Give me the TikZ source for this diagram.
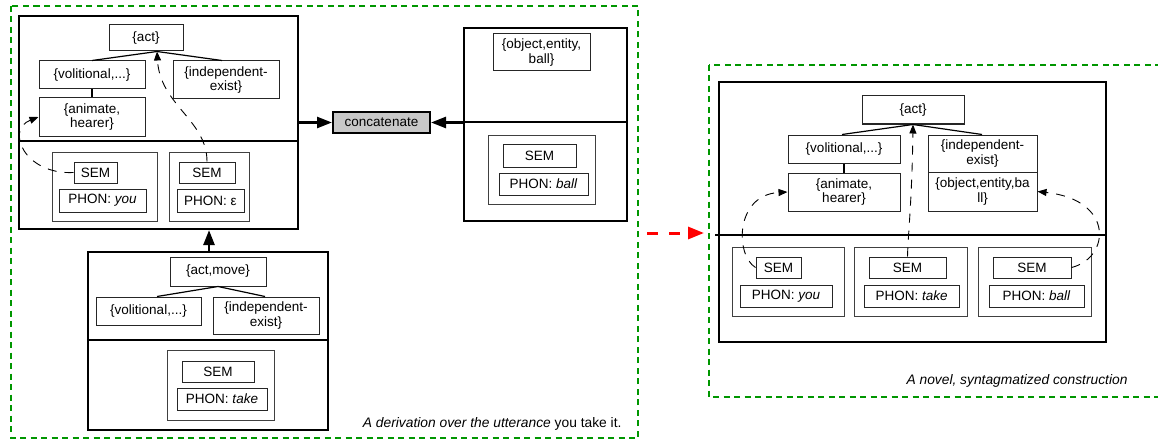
\documentclass[tikz,border=0pt]{standalone}
\usepackage{fontspec}
\setmainfont{Liberation Sans}
\usetikzlibrary{arrows.meta,calc}
\definecolor{dgreen}{RGB}{0,150,0}
\definecolor{cgray}{RGB}{200,200,200}
\newcommand{\boxfont}{\fontsize{13.5}{14.5}\selectfont}
\newcommand{\capfont}{\fontsize{13.8}{15}\selectfont}
\begin{document}
\begin{tikzpicture}[x=1pt,y=-1pt,
  every node/.style={font=\boxfont},
  sz/.style 2 args={minimum width=#1pt, minimum height=#2pt},
  box/.style={draw=black!85, line width=1pt, inner sep=0pt, align=center},
  cont/.style={draw=black!75, line width=1pt, inner sep=0pt},
  bigbox/.style={draw=black, line width=2.2pt, inner sep=0pt},
  divline/.style={draw=black, line width=2pt},
  tree/.style={draw=black, line width=1.2pt},
  bigarrow/.style={draw=black, line width=2.6pt, -{Triangle[length=15pt,width=11pt]}},
  dasharrow/.style={draw=black, line width=0.9pt, dash pattern=on 9pt off 8pt, -{Triangle[length=9pt,width=7pt]}},
  greenbox/.style={draw=dgreen, line width=2.4pt, dash pattern=on 6pt off 4.5pt},
  redarrow/.style={draw=red, line width=3pt, dash pattern=on 11pt off 11pt, -{Triangle[length=16pt,width=12pt]}},
  ]
\useasboundingbox (0,0) rectangle (1158,441);
\clip (0,0) rectangle (1158,441);

% green frames
\draw[greenbox] (11,6) rectangle (638,438);
\draw[greenbox] (709,65) rectangle (1170,397);

% ---------- Box A ----------
\node[bigbox, sz={279}{213}] (A) at (158.5,122.5) {};
\draw[divline] (A.west |- 0,141) -- (A.east |- 0,141);
\node[box, sz={74}{26}] (actA) at (146,38) {\{act\}};
\node[box, sz={106}{28}] (volA) at (92,75) {\{volitional,...\}};
\node[box, sz={106}{38}] (indA) at (226,80) {\{independent-\\exist\}};
\node[box, sz={106}{38}] (aniA) at (92,117) {\{animate,\\hearer\}};
\draw[tree] (volA.north) -- (actA.south -| 157,0) -- (indA.north -| 222,0);
\draw[tree] (volA.south) -- (aniA.north);
\node[cont, sz={105}{69}] (youA) at (104.5,186.5) {};
\node[box, sz={43}{21}] (semYouA) at (95.5,172.5) {SEM};
\node[box, sz={87}{23}] (phonYouA) at (102.5,200.5) {PHON: \textit{you}};
\node[cont, sz={80}{69}] (epsA) at (209,186.5) {};
\node[box, sz={56}{21}] (semEpsA) at (207,172.5) {SEM};
\node[box, sz={67}{23}] (phonEpsA) at (210.5,200.5) {PHON: ε};
\draw[dasharrow] (semYouA.west) .. controls (25,175) and (5,130) .. (aniA.west);
\draw[dasharrow] (semEpsA.north) .. controls (207,120) and (160,105) .. (actA.south -| 157,0);

% ---------- concatenate ----------
\node[draw=black, line width=2pt, fill=cgray, inner sep=0pt, sz={97}{21}] (concat) at (381.5,122.5) {concatenate};

% ---------- Box B ----------
\node[bigbox, sz={163}{193}] (B) at (545.5,124.5) {};
\draw[divline] (B.west |- 0,122) -- (B.east |- 0,122);
\node[box, sz={97}{37}] (objB) at (541.5,52.5) {\{object,entity,\\ball\}};
\node[cont, sz={107}{69}] (ballB) at (541.5,169.5) {};
\node[box, sz={73}{23}] (semB) at (539.5,155.5) {SEM};
\node[box, sz={89}{22}] (phonB) at (543.5,184) {PHON: \textit{ball}};

\draw[bigarrow] (A.east |- concat.west) -- (concat.west);
\draw[bigarrow] (B.west |- concat.east) -- (concat.east);

% ---------- Box C ----------
\node[bigbox, sz={240}{178}] (C) at (208,341) {};
\draw[divline] (C.west |- 0,340) -- (C.east |- 0,340);
\node[box, sz={96}{29}] (actC) at (218,271.5) {\{act,move\}};
\node[box, sz={105}{28}] (volC) at (148.5,311) {\{volitional,...\}};
\node[box, sz={106}{37}] (indC) at (266,315.5) {\{independent-\\exist\}};
\draw[tree] (volC.north -| 157,0) -- (actC.south) -- (indC.north -| 265,0);
\node[cont, sz={107}{70}] (takeC) at (220.5,385) {};
\node[box, sz={72}{21}] (semC) at (218,371.5) {SEM};
\node[box, sz={90}{22}] (phonC) at (222,399) {PHON: \textit{take}};

\draw[bigarrow] (C.north -| 209,0) -- (A.south -| 209,0);

\node[anchor=east, font=\capfont] (capL) at (625,424) {{\itshape A derivation over the utterance} you take it.};

% ---------- red arrow ----------
\coordinate (rs) at (647,233);
\coordinate (re) at (704,233);
\draw[redarrow] (rs) -- (re);

% ---------- Box D ----------
\node[bigbox, sz={387}{260}] (D) at (912.5,212) {};
\draw[divline] (715,235) -- (D.east |- 0,235);
\node[box, sz={102}{28}] (actD) at (913,110) {\{act\}};
\node[box, sz={112}{28}] (volD) at (844,149) {\{volitional,...\}};
\node[box, sz={109}{37}] (indD) at (982.5,153.5) {\{independent-\\exist\}};
\node[box, sz={109}{39}] (objD) at (982.5,191.5) {\{object,entity,ba\\ll\}};
\node[box, sz={112}{38}] (aniD) at (844,192) {\{animate,\\hearer\}};
\draw[tree] (volD.north -| 842,0) -- (actD.south) -- (indD.north -| 982,0);
\draw[tree] (volD.south) -- (aniD.north);

\node[cont, sz={112}{69}] (youD) at (788,281.5) {};
\node[box, sz={45}{21}] (semYouD) at (778.5,267.5) {SEM};
\node[box, sz={92}{22}] (phonYouD) at (786,296) {PHON: \textit{you}};
\node[cont, sz={113}{69}] (takeD) at (910.5,281.5) {};
\node[box, sz={77}{21}] (semTakeD) at (907.5,267.5) {SEM};
\node[box, sz={95}{22}] (phonTakeD) at (911.5,296) {PHON: \textit{take}};
\node[cont, sz={113}{69}] (ballD) at (1034.5,281.5) {};
\node[box, sz={78}{21}] (semBallD) at (1032,267.5) {SEM};
\node[box, sz={95}{22}] (phonBallD) at (1036.5,296) {PHON: \textit{ball}};

\draw[dasharrow] (semYouD.west) .. controls (735,255) and (735,195) .. (aniD.west);
\draw[dasharrow] (semTakeD.north) .. controls (908,235) and (912,200) .. (actD.south);
\draw[dasharrow] (semBallD.east) .. controls (1110,258) and (1115,200) .. (objD.east);

\node[anchor=east, font=\capfont\itshape] (capR) at (1131,381) {A novel, syntagmatized construction};
\end{tikzpicture}
\end{document}
